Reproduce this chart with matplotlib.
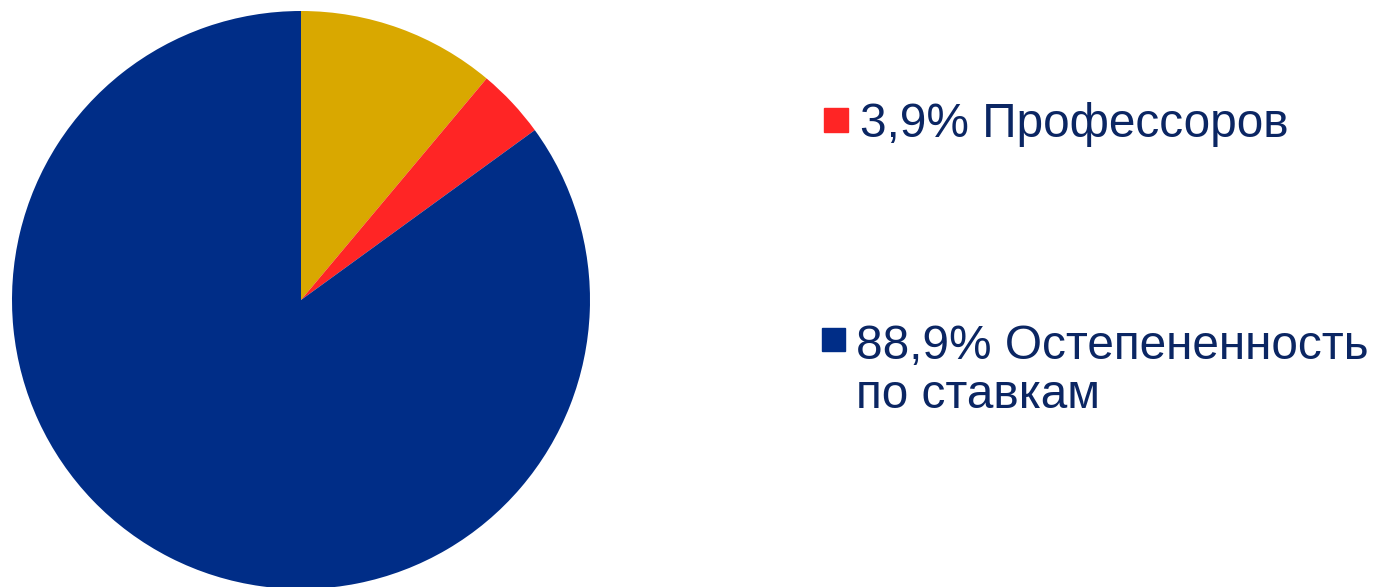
import matplotlib.pyplot as plt
from matplotlib.patches import Rectangle

# slice shares as drawn in the picture (gold, red, blue)
shares = [11.1, 3.9, 85.0]
colors = ['#D9A800', '#FF2525', '#002D87']
legend_lines = [["3,9% Профессоров"], ["88,9% Остепененность", "по ставкам"]]
legend_colors = [colors[1], colors[2]]
text_color = '#0B2663'

W, H = 1378, 587
fig = plt.figure(figsize=(W / 100, H / 100), dpi=100)

# pie axes: centre (301, 300) px, radius 289 px
cx, cy, r = 301, 300, 289
ax = fig.add_axes([(cx - r) / W, (H - cy - r) / H, 2 * r / W, 2 * r / H])
ax.pie(shares, colors=colors, startangle=90, counterclock=False, radius=1,
       wedgeprops=dict(linewidth=0))
ax.set_xlim(-1, 1)
ax.set_ylim(-1, 1)
ax.set_aspect('equal')
ax.axis('off')

# legend entries placed by hand (pixel positions)
sq = [(824, 108, 24), (822, 328, 23)]
text_x = [860, 856]
baselines = [[137], [359, 408]]
for i, lines in enumerate(legend_lines):
    x0, y0, s = sq[i]
    fig.patches.append(Rectangle((x0 / W, (H - y0 - s) / H), s / W, s / H,
                                 transform=fig.transFigure, color=legend_colors[i]))
    for line, b in zip(lines, baselines[i]):
        fig.text(text_x[i] / W, (H - b) / H, line, fontsize=34.4, color=text_color,
                 family='Liberation Sans', va='baseline', ha='left')

fig.savefig('out.png', dpi=100)
